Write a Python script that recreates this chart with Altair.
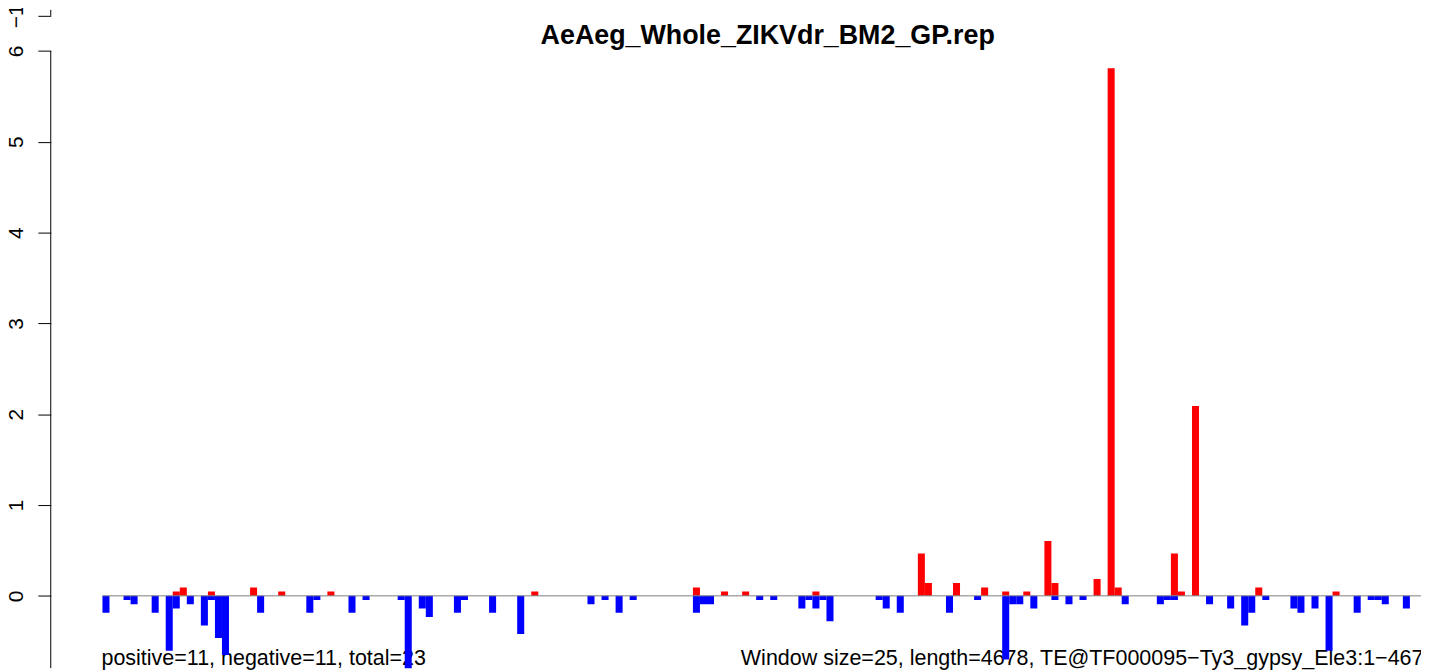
import altair as alt
import pandas as pd

# ---- data (window index, normalised value) ----
pos_bins = [10, 11, 15, 21, 25, 32, 61, 84, 88, 91, 101, 116, 117, 121, 125,
            128, 131, 134, 135, 141, 143, 144, 152, 153, 155, 164, 175]
pos_vals = [0.047, 0.093, 0.047, 0.093, 0.047, 0.047, 0.047, 0.093, 0.047, 0.047,
            0.047, 0.465, 0.14, 0.14, 0.093, 0.047, 0.047, 0.605, 0.14, 0.186,
            5.81, 0.093, 0.465, 0.047, 2.09, 0.093, 0.047]

neg_bins = [0, 3, 4, 7, 9, 10, 12, 14, 15, 16, 17, 22, 29, 30, 35, 37, 42, 43,
            45, 46, 50, 51, 55, 59, 69, 71, 73, 75, 84, 85, 86, 93, 95, 99, 100,
            101, 102, 103, 110, 111, 113, 120, 124, 128, 129, 130, 132, 135, 137,
            139, 145, 150, 151, 152, 157, 160, 162, 163, 165, 169, 170, 172, 174,
            178, 180, 181, 182, 185]
neg_vals = [-0.186, -0.047, -0.093, -0.186, -0.605, -0.14, -0.093, -0.326, -0.047,
            -0.465, -0.651, -0.186, -0.186, -0.047, -0.186, -0.047, -0.047, -0.84,
            -0.14, -0.233, -0.186, -0.047, -0.186, -0.42, -0.093, -0.047, -0.186,
            -0.047, -0.186, -0.093, -0.093, -0.047, -0.047, -0.14, -0.047, -0.14,
            -0.047, -0.28, -0.047, -0.14, -0.186, -0.186, -0.047, -0.70, -0.093,
            -0.093, -0.14, -0.047, -0.093, -0.047, -0.093, -0.093, -0.047, -0.047,
            -0.093, -0.14, -0.326, -0.186, -0.047, -0.14, -0.186, -0.14, -0.605,
            -0.186, -0.047, -0.047, -0.093, -0.14]

y_ticks = [0, 1, 2, 3, 4, 5, 6]
upper_panel_tick = 6.387          # bottom tick ("−1") of the panel above
n_windows = 188

title_text = "AeAeg_Whole_ZIKVdr_BM2_GP.rep"
left_note = "positive=11, negative=11, total=23"
right_note = "Window size=25, length=4678, TE@TF000095\u2212Ty3_gypsy_Ele3:1\u22124678"

FONT = "Liberation Sans"
W, H = 1378, 662

df = pd.DataFrame({
    "bin": pos_bins + neg_bins,
    "value": pos_vals + neg_vals,
    "strand": ["positive"] * len(pos_bins) + ["negative"] * len(neg_bins),
})
df["bin_end"] = df["bin"] + 1

xscale = alt.Scale(domain=[-7.356, 187.58], nice=False, zero=False)
yscale = alt.Scale(domain=[-0.7961, 6.4524], nice=False, zero=False)

yaxis = alt.Axis(values=y_ticks + [upper_panel_tick],
                 labelExpr="datum.value > 6.2 ? '\u22121' : datum.label",
                 domain=False, grid=False, tickSize=13, tickColor="black",
                 tickWidth=1, labelAngle=270, labelAlign="center",
                 labelBaseline="alphabetic", labelPadding=15,
                 labelFont=FONT, labelFontSize=21, labelColor="black",
                 title=None)

note_left = alt.Chart(pd.DataFrame({"t": [left_note]})).mark_text(
    font=FONT, fontSize=21.6, align="left", baseline="alphabetic", color="black"
).encode(x=alt.value(51), y=alt.value(659), text="t:N")

note_right = alt.Chart(pd.DataFrame({"t": [right_note]})).mark_text(
    font=FONT, fontSize=21.6, align="left", baseline="alphabetic", color="black"
).encode(x=alt.value(694), y=alt.value(659), text="t:N")

bars = alt.Chart(df).mark_bar(clip=True, strokeWidth=0).encode(
    x=alt.X("bin:Q", scale=xscale, axis=None),
    x2="bin_end:Q",
    y=alt.Y("value:Q", scale=yscale, axis=yaxis),
    y2=alt.datum(0),
    color=alt.Color("strand:N", legend=None,
                    scale=alt.Scale(domain=["positive", "negative"],
                                    range=["#FF0000", "#0000FF"])),
)

zero_line = alt.Chart(pd.DataFrame({"a": [0], "b": [n_windows], "z": [0]})).mark_rule(
    color="#7f7f7f", strokeWidth=1, clip=True
).encode(x=alt.X("a:Q", scale=xscale, axis=None), x2="b:Q",
         y=alt.Y("z:Q", scale=yscale, axis=yaxis))

axis_main = alt.Chart(pd.DataFrame({"v": [max(y_ticks)]})).mark_rule(
    color="black", strokeWidth=1
).encode(x=alt.value(0), y=alt.Y("v:Q", scale=yscale, axis=yaxis), y2=alt.value(H))

axis_upper = alt.Chart(pd.DataFrame({"v": [upper_panel_tick]})).mark_rule(
    color="black", strokeWidth=1
).encode(x=alt.value(0), y=alt.Y("v:Q", scale=yscale, axis=yaxis), y2=alt.value(0))

title = alt.Chart(pd.DataFrame({"t": [title_text]})).mark_text(
    font=FONT, fontSize=27, fontWeight="bold", align="center",
    baseline="alphabetic", color="black"
).encode(x=alt.value(721), y=alt.value(34.5), text="t:N")

chart = alt.layer(note_left, note_right, bars, zero_line, axis_main, axis_upper,
                  title).properties(
    width=W, height=H,
    autosize=alt.AutoSizeParams(type="none"),
    padding={"left": 43, "top": 0, "right": 0, "bottom": 0},
    background="white",
).configure_view(stroke="transparent", strokeWidth=0)

chart.save("out.html", embed_options={"renderer": "svg", "actions": False})
